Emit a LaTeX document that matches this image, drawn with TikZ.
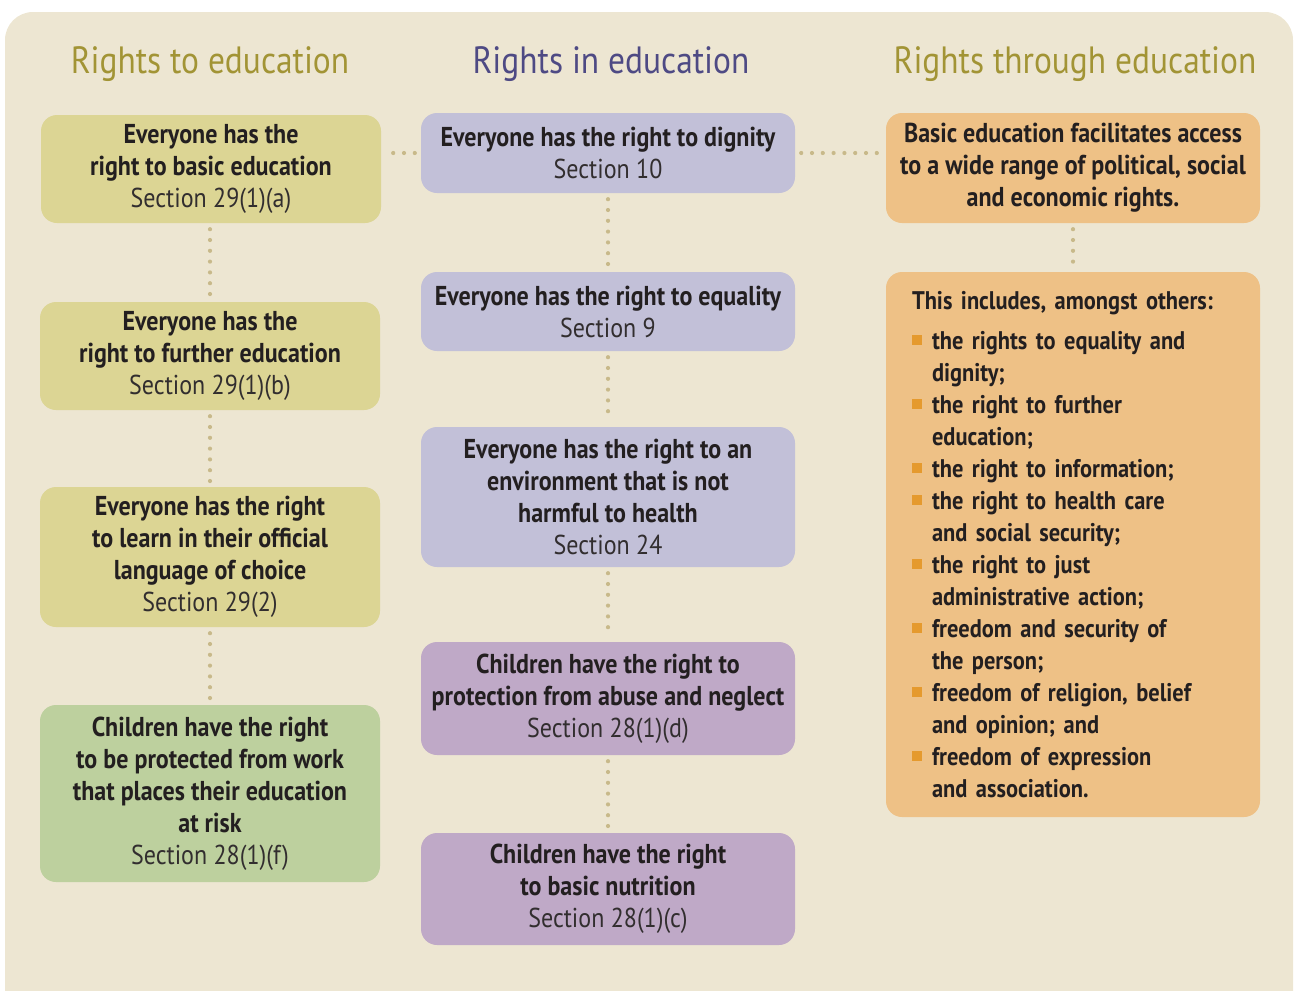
\documentclass[tikz,border=0pt]{standalone}
\usepackage{fontspec}
\setmainfont{PT Sans}[FakeStretch=0.88]

\definecolor{panel}{RGB}{237,230,210}
\definecolor{olivebox}{RGB}{220,213,148}
\definecolor{greenbox}{RGB}{189,208,158}
\definecolor{lavbox}{RGB}{194,192,216}
\definecolor{purplebox}{RGB}{191,169,199}
\definecolor{orangebox}{RGB}{238,193,134}
\definecolor{bulc}{RGB}{229,154,46}
\definecolor{dotc}{RGB}{200,185,138}
\definecolor{olivetitle}{RGB}{162,148,53}
\definecolor{navytitle}{RGB}{78,74,132}
\definecolor{ink}{RGB}{35,31,32}
\definecolor{secink}{RGB}{50,46,47}

\newcommand\boxfont{\fontsize{27.3}{32}\selectfont\bfseries}
\newcommand\listfont{\fontsize{25.5}{32}\selectfont\bfseries}
\newcommand\secline[1]{{\mdseries\color{secink}#1}}
\newcommand\bul{\textcolor{bulc}{\rule[4pt]{10pt}{10pt}}\hspace{10pt}}
\newcommand\ind{\hspace*{20pt}}

\begin{document}
\begin{tikzpicture}[x=1pt,y=-1pt,
  box/.style={rounded corners=16pt, inner sep=0pt, align=center,
    font=\boxfont, text=ink, minimum width=#1},
  box/.default=340,
  title/.style={anchor=base, font=\fontsize{38}{42}\selectfont},
  link/.style={draw=dotc, line width=4.2pt, line cap=round,
    dash pattern=on 0pt off 10.8pt, shorten <=6pt, shorten >=5pt}]

\useasboundingbox (0,0) rectangle (1294,991);
\begin{scope}
  \clip (0,0) rectangle (1294,991);
  \fill[panel, rounded corners=28pt] (5,12) rectangle (1293,1020);
\end{scope}

% column headings
\node[title, text=olivetitle] (t1) at (210,73) {Rights to education};
\node[title, text=navytitle]  (t2) at (611,73) {Rights in education};
\node[title, text=olivetitle] (t3) at (1075,73) {Rights through education};

% left column
\node[box, fill=olivebox, minimum height=108] (L1) at (211,169)
  {Everyone has the\\right to basic education\\\secline{Section 29(1)(a)}};
\node[box, fill=olivebox, minimum height=108] (L2) at (210,356)
  {Everyone has the\\right to further education\\\secline{Section 29(1)(b)}};
\node[box, fill=olivebox, minimum height=140] (L3) at (210,557)
  {Everyone has the right\\to learn in their official\\language of choice\\\secline{Section 29(2)}};
\node[box, fill=greenbox, minimum height=177] (L4) at (210,793.5)
  {Children have the right\\to be protected from work\\that places their education\\at risk\\\secline{Section 28(1)(f)}};

% middle column
\node[box=374, fill=lavbox, minimum height=80] (M1) at (608,153)
  {Everyone has the right to dignity\\\secline{Section 10}};
\node[box=374, fill=lavbox, minimum height=79] (M2) at (608,311.5)
  {Everyone has the right to equality\\\secline{Section 9}};
\node[box=374, fill=lavbox, minimum height=140] (M3) at (608,497)
  {Everyone has the right to an\\environment that is not\\harmful to health\\\secline{Section 24}};
\node[box=374, fill=purplebox, minimum height=113] (M4) at (608,698.5)
  {Children have the right to\\protection from abuse and neglect\\\secline{Section 28(1)(d)}};
\node[box=374, fill=purplebox, minimum height=112] (M5) at (608,889)
  {Children have the right\\to basic nutrition\\\secline{Section 28(1)(c)}};

% right column
\node[box=374, fill=orangebox, minimum height=110] (R1) at (1073,168)
  {Basic education facilitates access\\to a wide range of political, social\\and economic rights.};
\node[box=374, fill=orangebox, minimum height=545, text width=322, align=left, font=\listfont] (R2) at (1073,544.5)
  {This includes, amongst others:\\[8pt]
   \bul the rights to equality and\\ \ind dignity;\\
   \bul the right to further\\ \ind education;\\
   \bul the right to information;\\
   \bul the right to health care\\ \ind and social security;\\
   \bul the right to just\\ \ind administrative action;\\
   \bul freedom and security of\\ \ind the person;\\
   \bul freedom of religion, belief\\ \ind and opinion; and\\
   \bul freedom of expression\\ \ind and association.};

% dotted connectors
\draw[link] (M1.west) -- (M1.west -| L1.east);
\draw[link] (M1.east) -- (M1.east -| R1.west);
\draw[link] (L2.north |- L1.south) -- (L2.north);
\draw[link] (L2.south) -- (L3.north);
\draw[link] (L3.south) -- (L4.north);
\draw[link] (M1.south) -- (M2.north);
\draw[link] (M2.south) -- (M3.north);
\draw[link] (M3.south) -- (M4.north);
\draw[link] (M4.south) -- (M5.north);
\draw[link] (R1.south) -- (R2.north);
\end{tikzpicture}
\end{document}
